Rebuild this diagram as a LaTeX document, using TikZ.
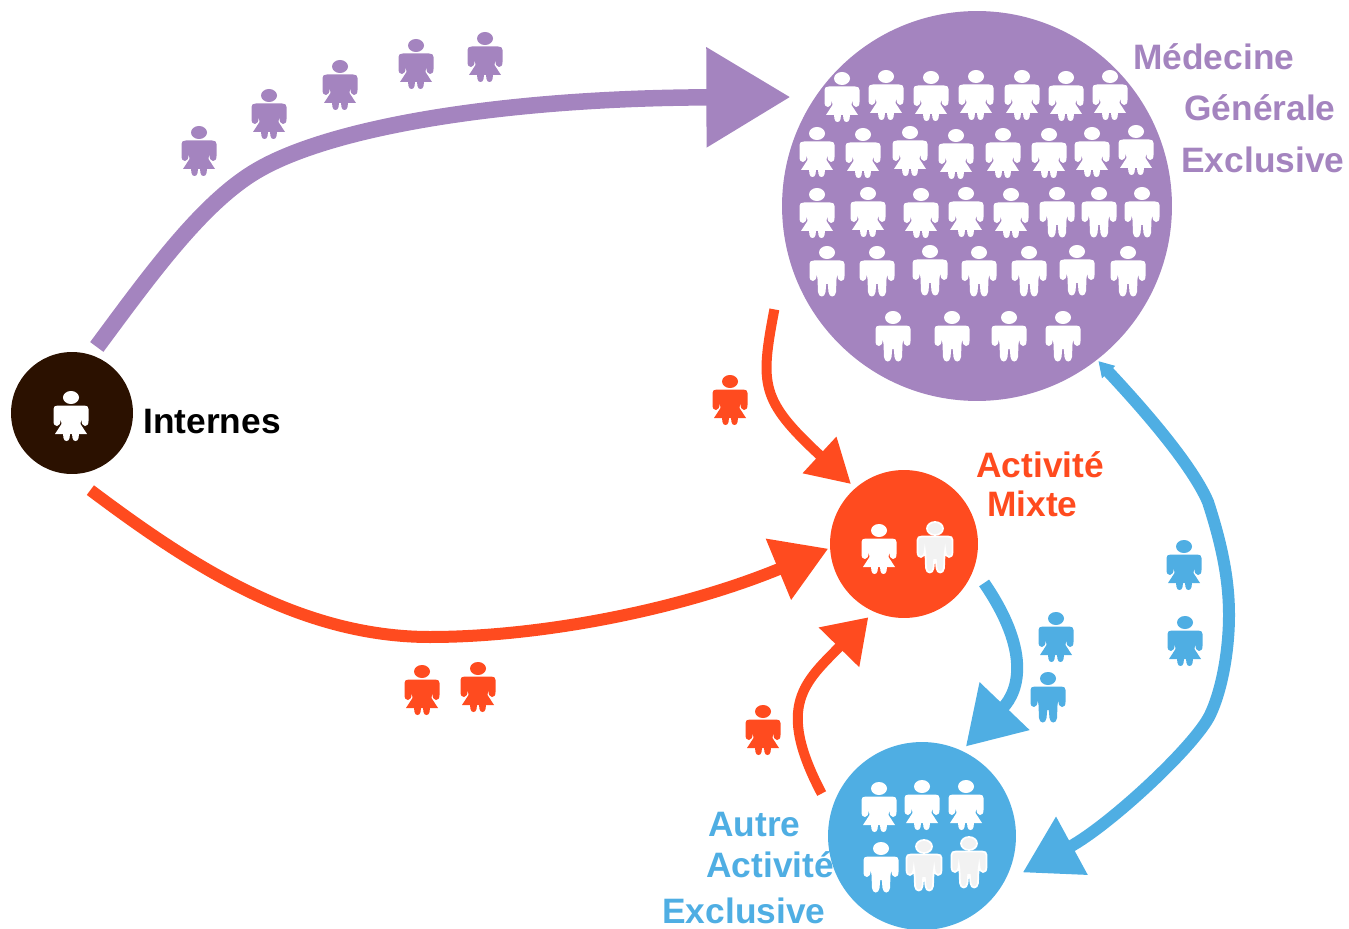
\documentclass[tikz,border=0pt]{standalone}
\usepackage{fontspec}
\setmainfont{Liberation Sans}
\usetikzlibrary{arrows.meta}

\definecolor{mgecol}{HTML}{A484BF}
\definecolor{mixtecol}{HTML}{FF4B1F}
\definecolor{autrecol}{HTML}{4FAEE3}
\definecolor{internecol}{HTML}{2B1100}

\tikzset{
  disc/.style={circle,inner sep=0pt,outer sep=0pt},
  label/.style={anchor=base west,inner sep=0pt,font=\fontsize{20.1}{24}\selectfont\bfseries},
  grey/.style={fill=black!5,draw=white,line width=1pt},
  pics/woman/.style={code={
    \path[pic actions] (0,-18.5) ellipse [x radius=8,y radius=6.5];
    \path[pic actions] (-13,-10.5) -- (13,-10.5) .. controls (16,-10.5) and (17.5,-9.5) .. (17.5,-7)
      -- (17.5,5) .. controls (17.5,8.5) and (16,10) .. (14,10) .. controls (12,10) and (10.5,8) .. (10.2,3)
      -- (9.5,8) -- (16,18) -- (8,18) -- (7.5,22) .. controls (7,26) and (2,26) .. (1.5,22) -- (1,18)
      -- (-1,18) -- (-1.5,22) .. controls (-2,26) and (-7,26) .. (-7.5,22) -- (-8,18)
      -- (-16,18) -- (-9.5,8) -- (-10.2,3) .. controls (-10.5,8) and (-12,10) .. (-14,10)
      .. controls (-16,10) and (-17.5,8.5) .. (-17.5,5) -- (-17.5,-7)
      .. controls (-17.5,-9.5) and (-16,-10.5) .. (-13,-10.5) -- cycle;
  }},
  pics/man/.style={code={
    \path[pic actions] (0,-18.5) ellipse [x radius=8,y radius=6.5];
    \path[pic actions] (-13,-10.5) -- (13,-10.5) .. controls (16,-10.5) and (17.5,-9.5) .. (17.5,-7)
      -- (17.5,5) .. controls (17.5,8.5) and (16,10) .. (14,10) .. controls (12,10) and (10.5,8) .. (10.2,3)
      -- (9.5,8) -- (9,21) .. controls (8.5,27) and (2,27) .. (1.5,21) -- (0.8,13) -- (-0.8,13)
      -- (-1.5,21) .. controls (-2,27) and (-8.5,27) .. (-9,21) -- (-9.5,8)
      -- (-10.2,3) .. controls (-10.5,8) and (-12,10) .. (-14,10)
      .. controls (-16,10) and (-17.5,8.5) .. (-17.5,5) -- (-17.5,-7)
      .. controls (-17.5,-9.5) and (-16,-10.5) .. (-13,-10.5) -- cycle;
  }},
}

\begin{document}
\begin{tikzpicture}[x=0.02cm,y=-0.02cm]
\useasboundingbox (0,0) rectangle (1349,929);

\node[disc,fill=internecol,minimum size=2.44cm] (internes) at (72,413) {};
\node[disc,fill=mgecol,minimum size=7.8cm] (mge) at (977,206) {};
\node[disc,fill=mixtecol,minimum size=2.96cm] (mixte) at (904,544) {};
\node[disc,fill=autrecol,minimum size=3.76cm] (autre) at (922,836) {};

% arrows
\draw[mgecol,line width=0.33cm,shorten <=0.2cm,shorten >=0.5cm,-{Triangle[length=1.68cm,width=1.92cm]}]
  (internes.72) .. controls (150,275) and (200,206) .. (253,173)
  .. controls (325,128) and (500,98) .. (mge.146.3);
\draw[mixtecol,line width=0.24cm,shorten <=0.54cm,shorten >=0.04cm,-{Triangle[length=1.08cm,width=1.26cm]}]
  (internes.-93) .. controls (190,565) and (300,637) .. (430,637)
  .. controls (540,637) and (680,610) .. (mixte.183);
\draw[mixtecol,line width=0.2cm,shorten <=1.28cm,shorten >=0.12cm,-{Triangle[length=0.86cm,width=0.94cm]}]
  (mge.192) .. controls (760,385) and (760,400) .. (mixte.131);
\draw[autrecol,line width=0.24cm,shorten <=0.04cm,shorten >=0.44cm,{Triangle[length=0.3cm,width=0.34cm]}-{Triangle[length=1.12cm,width=1.26cm]}]
  (mge.-52.3) .. controls (1130,395) and (1190,460) .. (1208,502)
  .. controls (1222,545) and (1229,580) .. (1229,615)
  .. controls (1229,650) and (1222,690) .. (1210,715)
  .. controls (1195,746) and (1110,825) .. (autre.-30);
\draw[autrecol,line width=0.24cm,shorten <=0.36cm,shorten >=0.12cm,-{Triangle[length=1.12cm,width=1.32cm]}]
  (mixte.-19) .. controls (1030,650) and (1020,690) .. (autre.65);
\draw[mixtecol,line width=0.2cm,shorten <=0.41cm,shorten >=0.16cm,-{Triangle[length=0.84cm,width=1.08cm]}]
  (autre.165) .. controls (775,705) and (805,682) .. (mixte.-114);

% people in the discs
\pic[fill=white] at (71,416) {woman};
\foreach \x/\y in {842/97,886/95,931/96,976/95,1022/95,1066/96,1110/95,
    817/152,863/153,910/151,956/154,1003/153,1049/153,1092/152,1136/150,
    817/213,868/212,921/213,966/212,1011/213,
    879/549,879/807,922/805,966/805}
  \pic[fill=white] at (\x,\y) {woman};
\foreach \x/\y in {1057/212,1099/212,1142/212,
    827/271,877/271,930/270,979/271,1029/271,1077/270,1128/271,
    893/336,952/336,1009/336,1063/336,881/867}
  \pic[fill=white] at (\x,\y) {man};
\foreach \x/\y in {935/547,924/865,969/862}
  \pic[grey] at (\x,\y) {man};

% people along the arrows
\foreach \x/\y in {199/151,269/114,340/85,416/64,485/57}
  \pic[fill=mgecol] at (\x,\y) {woman};
\foreach \x/\y in {730/400,422/690,478/687,763/730}
  \pic[fill=mixtecol] at (\x,\y) {woman};
\foreach \x/\y in {1184/565,1185/641,1056/637}
  \pic[fill=autrecol] at (\x,\y) {woman};
\pic[fill=autrecol] at (1048,697) {man};

% labels
\node[label,text=black] (lint) at (143,433) {Internes};
\node[label,text=mgecol] (lmga) at (1133,70) {Médecine};
\node[label,text=mgecol] (lmgb) at (1184,121) {Générale};
\node[label,text=mgecol] (lmgc) at (1181,173) {Exclusive};
\node[label,text=mixtecol] (lmxa) at (976,477) {Activité};
\node[label,text=mixtecol] (lmxb) at (987,516) {Mixte};
\node[label,text=autrecol] (laua) at (708,836) {Autre};
\node[label,text=autrecol] (laub) at (706,877) {Activité};
\node[label,text=autrecol] (lauc) at (662,923) {Exclusive};

\end{tikzpicture}
\end{document}
